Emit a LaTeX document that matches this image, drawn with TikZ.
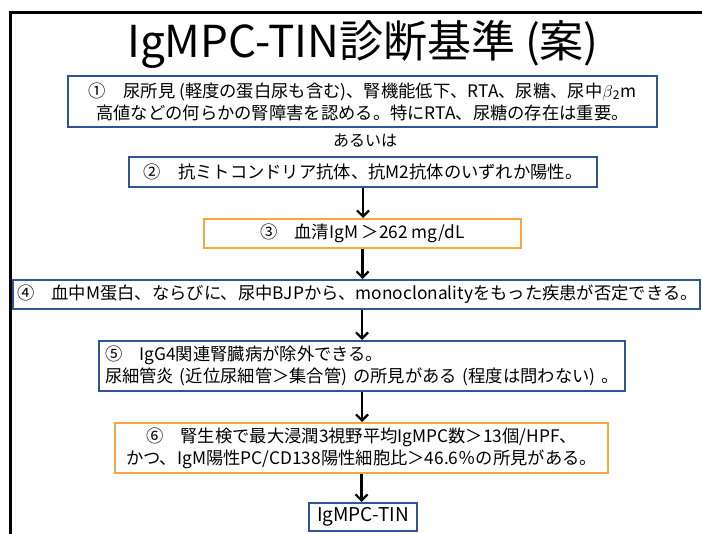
\documentclass[tikz,border=0pt]{standalone}
\usepackage{fontspec}
\setmainfont{Noto Sans CJK JP}
\usetikzlibrary{arrows.meta}
\definecolor{bblue}{HTML}{2F5597}
\definecolor{borange}{HTML}{F5A83B}
\newcommand\bxfont{\fontsize{17.3}{22}\selectfont}
\begin{document}
\begin{tikzpicture}[x=1pt,y=-1pt,
  box/.style={line width=2pt, fill=white, inner xsep=5pt, inner ysep=0pt, font=\bxfont, align=center},
  bluebox/.style={box, draw=bblue},
  orbox/.style={box, draw=borange},
  arr/.style={line width=2.4pt, -{Straight Barb[length=6pt,width=12pt,line width=2.2pt]}}]
\useasboundingbox (0,0) rectangle (702,534);
\clip (0,0) rectangle (702,534);
\fill[white] (0,0) rectangle (702,534);
\draw[line width=3pt] (10,560) -- (10,13) -- (720,13);
\node (title) at (363,44) {\fontsize{44}{50}\selectfont IgMPC-TIN診断基準 (案)};
\node[bluebox, minimum width=589pt, minimum height=51pt] (b1) at (362.5,101.5)
  {①　尿所見 (軽度の蛋白尿も含む)、腎機能低下、RTA、尿糖、尿中$\beta$\textsubscript{2}m\\高値などの何らかの腎障害を認める。特にRTA、尿糖の存在は重要。};
\node[font=\fontsize{16}{20}\selectfont] (or) at (365,141) {あるいは};
\node[bluebox, minimum width=468pt, minimum height=30pt] (b2) at (363,172)
  {②　抗ミトコンドリア抗体、抗M2抗体のいずれか陽性。};
\node[orbox, minimum width=317pt, minimum height=29pt] (b3) at (362.5,233.5)
  {③　血清IgM ＞262 mg/dL};
\node[bluebox, minimum height=29pt, inner xsep=4pt, text width=679pt, align=left] (b4) at (356.5,294.5)
  {④　血中M蛋白、ならびに、尿中BJPから、monoclonalityをもった疾患が否定できる。};
\node[bluebox, minimum height=50pt, inner xsep=6pt, text width=514pt, align=left] (b5) at (362,366)
  {⑤　IgG4関連腎臓病が除外できる。\\尿細管炎 (近位尿細管＞集合管) の所見がある (程度は問わない) 。};
\node[orbox, minimum width=493pt, minimum height=50pt] (b6) at (361.5,448)
  {⑥　腎生検で最大浸潤3視野平均IgMPC数＞13個/HPF、\\かつ、IgM陽性PC/CD138陽性細胞比＞46.6％の所見がある。};
\node[bluebox, minimum width=108pt, minimum height=28pt, font=\fontsize{19}{22}\selectfont] (b7) at (363,517)
  {IgMPC-TIN};
\draw[arr] (b2.south) -- (b2.south |- b3.north);
\draw[arr] (b3.south) -- (b3.south |- b4.north);
\draw[arr] (b5.north |- b4.south) -- (b5.north);
\draw[arr] (b5.south) -- (b5.south |- b6.north);
\draw[arr] (b6.south) -- (b6.south |- b7.north);
\end{tikzpicture}
\end{document}
